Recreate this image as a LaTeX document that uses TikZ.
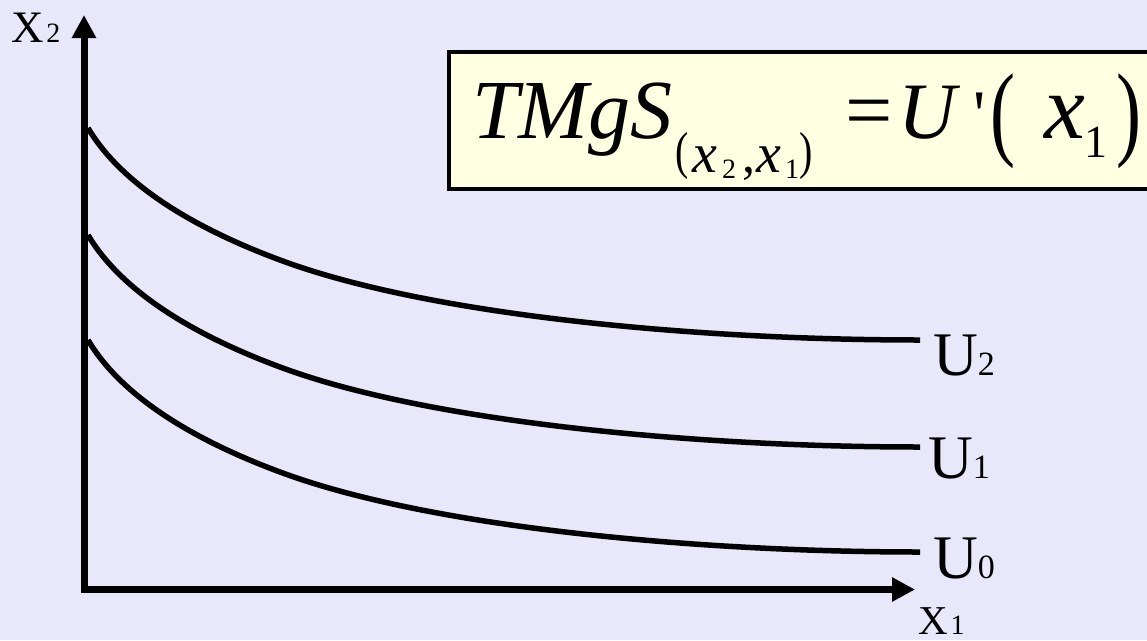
\documentclass[tikz,border=0pt]{standalone}
\usepackage{graphicx}
\usepackage{fontspec}
\setmainfont{Liberation Serif}
\newfontfamily\rawserif{Liberation Serif}
\usetikzlibrary{arrows.meta}
\definecolor{bgcol}{RGB}{232,232,250}
\definecolor{boxfill}{RGB}{255,255,225}
\newcommand{\fsz}[1]{\fontsize{#1}{#1}\selectfont}
\newcommand{\tallp}[3]{\scalebox{1}[#2]{\fsz{#1}#3}}
\begin{document}
\begin{tikzpicture}[x=1pt,y=-1pt,
  axisline/.style={line width=7pt, line join=miter,
    {Triangle[width=23pt,length=23pt]}-{Triangle[width=23pt,length=23pt]}},
  ucurve/.style={line width=5.5pt},
  lbl/.style={inner sep=0pt, outer sep=0pt, anchor=base west},
  fbox/.style={draw=black, line width=4.5pt, fill=boxfill, inner sep=0pt,
    minimum width=711pt, minimum height=137pt}
]
\clip (0,0) rectangle (1147,640);
\fill[bgcol] (0,0) rectangle (1147,640);

% formula box
\node[fbox] (box) at (804.5,120.5) {};
\node[lbl] (tmgs) at (472,138) {\fsz{84}\itshape TMgS};
\node[lbl] (slp) at (675,168) {\tallp{40}{1.3}{(}};
\node[lbl] (sx2) at (692,172) {\fsz{56}\itshape x};
\node[lbl] (s2) at (722,178) {\fsz{28}2};
\node[lbl] (scomma) at (742,172) {\fsz{52},};
\node[lbl] (sx1) at (756,172) {\fsz{56}\itshape x};
\node[lbl] (s1) at (785,178) {\fsz{28}1};
\node[lbl] (srp) at (799,168) {\tallp{40}{1.3}{)}};
\node[lbl] (eq) at (845,138) {\fsz{84}=};
\node[lbl] (uu) at (898,138) {\fsz{80}\itshape U};
\node[lbl] (prime) at (973,137) {\fsz{68}\rawserif '};
\node[lbl] (blp) at (990,146) {\tallp{75}{1.4}{(}};
\node[lbl] (bx) at (1044,138) {\fsz{92}\itshape x};
\node[lbl] (b1) at (1084,157) {\fsz{46}1};
\node[lbl] (brp) at (1116,146) {\tallp{75}{1.4}{)}};

% axes
\coordinate (O) at (84,589.5);
\coordinate (ytip) at (84,15);
\coordinate (xtip) at (915,589.5);
\draw[axisline] (ytip) -- (O) -- (xtip);

% indifference curves
\foreach \d/\n in {0/2,107/1,212/0}{
  \draw[ucurve, shift={(0,\d)}] (88,128) .. controls (126,192) and (210,234) .. (280,260)
     .. controls (430,316) and (700,340) .. (920,340);
}

% labels
\node[lbl] (u2) at (933,375) {\fsz{62}U\fsz{34}2};
\node[lbl] (u1) at (928,478) {\fsz{62}U\fsz{34}1};
\node[lbl] (u0) at (933,578) {\fsz{62}U\fsz{34}0};
\node[lbl] (x2lab) at (11,42) {\fsz{45}X\kern3pt\fsz{28}2};
\node[lbl] (x1lab) at (918,634) {\fsz{41}X\kern3pt\fsz{28}1};
\end{tikzpicture}
\end{document}
